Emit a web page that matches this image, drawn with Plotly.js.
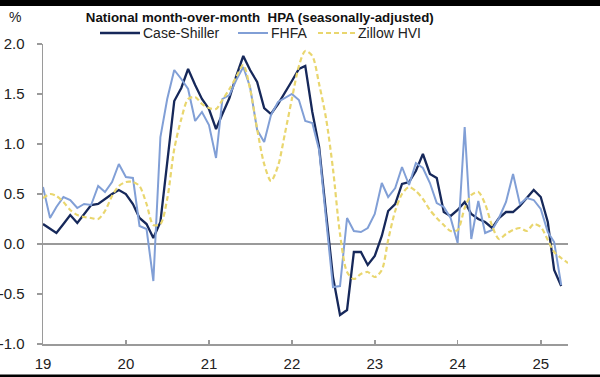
<!DOCTYPE html>
<html>
<head>
<meta charset="utf-8">
<script src="https://cdn.plot.ly/plotly-3.0.1.min.js"></script>
<style>
  html, body { margin: 0; padding: 0; background: #ffffff; }
  #chart { width: 600px; height: 377px; }
</style>
</head>
<body>
<div id="chart"></div>
<script>
// Monthly series, starting January 2019
const startYear = 2019;
const startMonth = 1;

const caseShiller = [
  0.20, 0.15, 0.11, 0.20, 0.29, 0.21, 0.30, 0.39, 0.40, 0.45, 0.50, 0.54,
  0.50, 0.40, 0.26, 0.20, 0.06, 0.22, 0.82, 1.43, 1.56, 1.75, 1.59, 1.45,
  1.35, 1.15, 1.30, 1.46, 1.68, 1.88, 1.74, 1.62, 1.36, 1.30, 1.40, 1.52,
  1.63, 1.75, 1.78, 1.32, 0.97, 0.30, -0.33, -0.71, -0.66, -0.08, -0.08, -0.21,
  -0.12, 0.08, 0.33, 0.40, 0.60, 0.62, 0.73, 0.90, 0.70, 0.66, 0.32, 0.28,
  0.34, 0.42, 0.30, 0.25, 0.22, 0.16, 0.26, 0.32, 0.32, 0.38, 0.46, 0.54,
  0.47, 0.22, -0.26, -0.42
];

const fhfa = [
  0.57, 0.26, 0.37, 0.47, 0.44, 0.36, 0.40, 0.39, 0.58, 0.52, 0.62, 0.80,
  0.67, 0.66, 0.18, 0.15, -0.37, 1.07, 1.45, 1.74, 1.65, 1.55, 1.23, 1.32,
  1.19, 0.86, 1.45, 1.49, 1.64, 1.77, 1.57, 1.14, 1.02, 1.29, 1.42, 1.46,
  1.50, 1.44, 1.23, 1.21, 0.94, 0.24, -0.43, -0.42, 0.26, 0.13, 0.12, 0.16,
  0.30, 0.61, 0.47, 0.56, 0.77, 0.59, 0.81, 0.76, 0.61, 0.41, 0.37, 0.26,
  0.01, 1.17, 0.05, 0.43, 0.11, 0.14, 0.26, 0.42, 0.70, 0.40, 0.46, 0.44,
  0.35, 0.12, 0.02, -0.41
];

const zillow = [
  0.46, 0.50, 0.48, 0.42, 0.34, 0.29, 0.27, 0.26, 0.25, 0.33, 0.48, 0.58,
  0.62, 0.62, 0.58, 0.40, 0.19, 0.20, 0.45, 0.95, 1.25, 1.45, 1.47, 1.40,
  1.36, 1.35, 1.44, 1.55, 1.67, 1.79, 1.55, 1.15, 0.80, 0.63, 0.78, 1.10,
  1.45, 1.78, 1.93, 1.88, 1.60, 1.25, 0.75, 0.10, -0.28, -0.35, -0.30, -0.28,
  -0.33, -0.26, 0.04, 0.33, 0.50, 0.57, 0.53, 0.45, 0.34, 0.26, 0.19, 0.13,
  0.14, 0.36, 0.49, 0.52, 0.40, 0.18, 0.05, 0.10, 0.14, 0.16, 0.13, 0.20,
  0.17, 0.04, -0.08, -0.14, -0.19
];

const seriesNames = ["Case-Shiller", "FHFA", "Zillow HVI"];
const xTickVals = ["2019-01-01","2020-01-01","2021-01-01","2022-01-01","2023-01-01","2024-01-01","2025-01-01"];
const xTickText = ["19","20","21","22","23","24","25"];
const yTickVals = [2.0, 1.5, 1.0, 0.5, 0.0, -0.5, -1.0];
const yTickText = ["2.0","1.5","1.0","0.5","0.0","-0.5","-1.0"];

function monthDates(n) {
  const out = [];
  for (let i = 0; i < n; i++) {
    const m0 = startMonth - 1 + i;
    const y = startYear + Math.floor(m0 / 12);
    const m = (m0 % 12) + 1;
    out.push(y + "-" + String(m).padStart(2, "0") + "-01");
  }
  return out;
}

const FONT = "'Liberation Sans Narrow', 'Arial Narrow', 'Liberation Sans', Arial, sans-serif";
const colors = ["#16285a", "#819fd6", "#e9d66e"];
const widths = [2.3, 2, 2.2];
const dashes = ["solid", "solid", "5px,3px"];

const traces = [
  {
    x: monthDates(caseShiller.length), y: caseShiller, name: seriesNames[0],
    type: "scatter", mode: "lines",
    line: { color: colors[0], width: widths[0] }
  },
  {
    x: monthDates(fhfa.length), y: fhfa, name: seriesNames[1],
    type: "scatter", mode: "lines",
    line: { color: colors[1], width: widths[1] }
  },
  {
    x: monthDates(zillow.length), y: zillow, name: seriesNames[2],
    type: "scatter", mode: "lines",
    line: { color: colors[2], width: widths[2], dash: dashes[2], shape: "spline", smoothing: 0.8 }
  }
];

// Legend placed as in the original (line sample + label), in paper coordinates
const PL = 43, PW = 525, PT = 44, PH = 300;
const px2x = p => (p - PL) / PW;
const py2y = p => (PT + PH - p) / PH;
const legendSampleStart = [100, 238, 318];
const legendSampleEnd = [140, 268, 355];
const legendY = 33;

const legendShapes = seriesNames.map((n, k) => ({
  type: "line", xref: "paper", yref: "paper",
  x0: px2x(legendSampleStart[k]), x1: px2x(legendSampleEnd[k]),
  y0: py2y(legendY), y1: py2y(legendY),
  line: { color: colors[k], width: widths[k], dash: dashes[k] }
}));
const legendLabels = seriesNames.map((n, k) => ({
  text: n, xref: "paper", yref: "paper",
  x: px2x(legendSampleEnd[k] + 1), y: py2y(legendY),
  xanchor: "left", yanchor: "middle", showarrow: false,
  font: { family: FONT, size: 14, color: "#222222" }
}));

const layout = {
  width: 600, height: 377,
  margin: { l: PL, r: 600 - PL - PW, t: PT, b: 377 - PT - PH },
  paper_bgcolor: "#ffffff",
  plot_bgcolor: "#ffffff",
  font: { family: FONT, size: 14, color: "#222222" },
  title: {
    text: "<b>National month-over-month  HPA (seasonally-adjusted)</b>",
    font: { family: FONT, size: 13.3, color: "#111111" },
    xref: "container", x: 0.433, xanchor: "center",
    yref: "container", y: 0.953, yanchor: "middle"
  },
  showlegend: false,
  xaxis: {
    type: "date",
    range: ["2019-01-01", "2025-05-01"],
    tickmode: "array", tickvals: xTickVals, ticktext: xTickText,
    ticks: "inside", ticklen: 4, tickcolor: "#9a9a9a", tickwidth: 1.5,
    showline: true, linecolor: "#9a9a9a", linewidth: 1.5,
    showgrid: false, zeroline: false,
    ticklabelstandoff: 5,
    tickfont: { family: FONT, size: 15, color: "#222222" },
    fixedrange: true
  },
  yaxis: {
    range: [-1, 2],
    tickmode: "array", tickvals: yTickVals, ticktext: yTickText,
    ticks: "outside", ticklen: 5, tickcolor: "#9a9a9a", tickwidth: 1.5,
    showline: true, linecolor: "#9a9a9a", linewidth: 1.5,
    showgrid: false,
    zeroline: true, zerolinecolor: "#9a9a9a", zerolinewidth: 1.5,
    ticklabelstandoff: 9,
    tickfont: { family: FONT, size: 15, color: "#222222" },
    fixedrange: true
  },
  annotations: [
    {
      text: "%", xref: "paper", yref: "paper",
      x: px2x(15), y: py2y(17), xanchor: "center", yanchor: "middle",
      showarrow: false, font: { family: FONT, size: 14, color: "#222222" }
    }
  ].concat(legendLabels),
  shapes: [
    { type: "rect", xref: "paper", yref: "paper", x0: px2x(-5), x1: px2x(605), y0: py2y(6), y1: py2y(-5),
      fillcolor: "#000000", line: { width: 0 }, layer: "above" },
    { type: "rect", xref: "paper", yref: "paper", x0: px2x(-5), x1: px2x(605), y0: py2y(382), y1: py2y(374.5),
      fillcolor: "#000000", line: { width: 0 }, layer: "above" }
  ].concat(legendShapes)
};

Plotly.newPlot("chart", traces, layout, { staticPlot: true, displayModeBar: false });
</script>
</body>
</html>
